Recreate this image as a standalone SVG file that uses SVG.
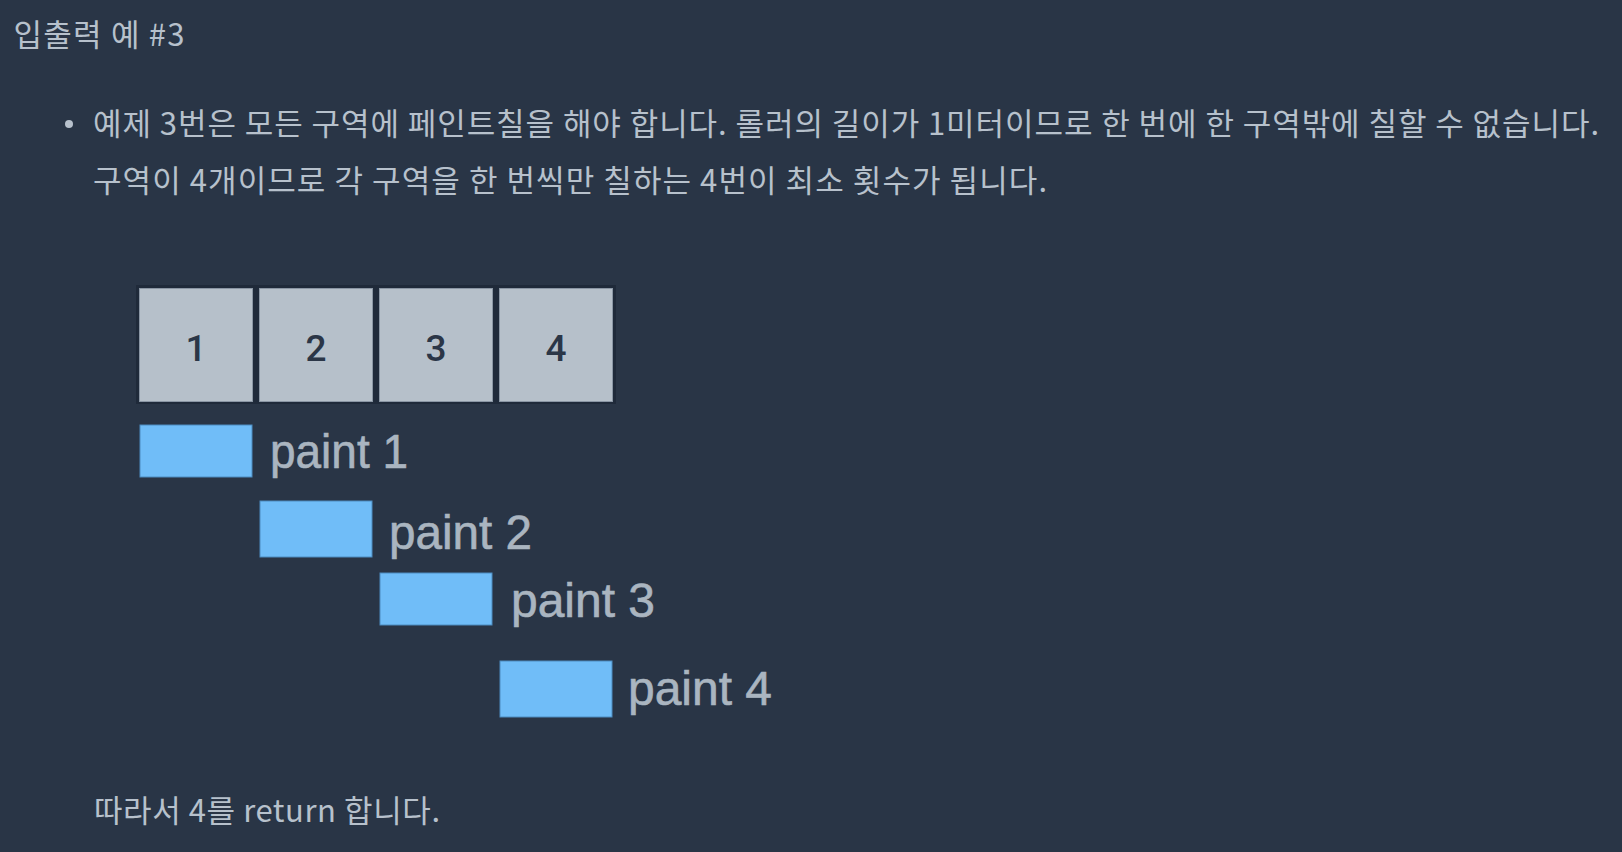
<svg xmlns="http://www.w3.org/2000/svg" width="1622" height="852" viewBox="0 0 1622 852">
  <style>
    .ko { font-family: "Noto Sans CJK KR", "Noto Sans", sans-serif; fill: #b7c1cc; font-size: 31px; font-weight: 400; }
    .cell { fill: #b6c0ca; stroke: #8a96a4; stroke-width: 1; }
    .num { font-family: Roboto, "Liberation Sans", Arial, sans-serif; font-size: 37px; font-weight: 500; fill: #2b3647; text-anchor: middle; }
    .bar { fill: #70bdf8; stroke: #4c8cc0; stroke-width: 1; }
    .lbl { font-family: "Liberation Sans", Arial, sans-serif; font-size: 48px; fill: #aab5c0; stroke: #aab5c0; stroke-width: 0.6; }
  </style>
  <rect x="0" y="0" width="1622" height="852" fill="#293546"/>

  <g id="title">
    <text class="ko" x="13.5" y="46" font-size="32" textLength="171" lengthAdjust="spacing">입출력 예 #3</text>
  </g>

  <g id="description">
    <circle cx="69" cy="124" r="4" fill="#b7c1cc"/>
    <text class="ko" x="93" y="134.5" textLength="1506" lengthAdjust="spacing">예제 3번은 모든 구역에 페인트칠을 해야 합니다. 롤러의 길이가 1미터이므로 한 번에 한 구역밖에 칠할 수 없습니다.</text>
    <text class="ko" x="93" y="192" textLength="954" lengthAdjust="spacing">구역이 4개이므로 각 구역을 한 번씩만 칠하는 4번이 최소 횟수가 됩니다.</text>
  </g>

  <g id="wall">
    <rect x="136" y="285" width="480" height="119" fill="#1f2a3a"/>
  </g>
  <g id="cell-1">
    <rect class="cell" x="139.5" y="288.5" width="113" height="113"/>
    <text class="num" x="196" y="361">1</text>
  </g>
  <g id="cell-2">
    <rect class="cell" x="259.5" y="288.5" width="113" height="113"/>
    <text class="num" x="316" y="361">2</text>
  </g>
  <g id="cell-3">
    <rect class="cell" x="379.5" y="288.5" width="113" height="113"/>
    <text class="num" x="436" y="361">3</text>
  </g>
  <g id="cell-4">
    <rect class="cell" x="499.5" y="288.5" width="113" height="113"/>
    <text class="num" x="556" y="361">4</text>
  </g>

  <g id="paint-1">
    <rect class="bar" x="140" y="425" width="112" height="52"/>
    <text class="lbl" x="270" y="468" textLength="138" lengthAdjust="spacingAndGlyphs">paint 1</text>
  </g>
  <g id="paint-2">
    <rect class="bar" x="260" y="501" width="112" height="56"/>
    <text class="lbl" x="389" y="549" textLength="143" lengthAdjust="spacingAndGlyphs">paint 2</text>
  </g>
  <g id="paint-3">
    <rect class="bar" x="380" y="573" width="112" height="52"/>
    <text class="lbl" x="511" y="617" textLength="144" lengthAdjust="spacingAndGlyphs">paint 3</text>
  </g>
  <g id="paint-4">
    <rect class="bar" x="500" y="661" width="112" height="56"/>
    <text class="lbl" x="628" y="705" textLength="144" lengthAdjust="spacingAndGlyphs">paint 4</text>
  </g>

  <g id="connectors"/>

  <g id="conclusion">
    <text class="ko" x="94" y="822" textLength="346" lengthAdjust="spacing">따라서 4를 return 합니다.</text>
  </g>
</svg>
